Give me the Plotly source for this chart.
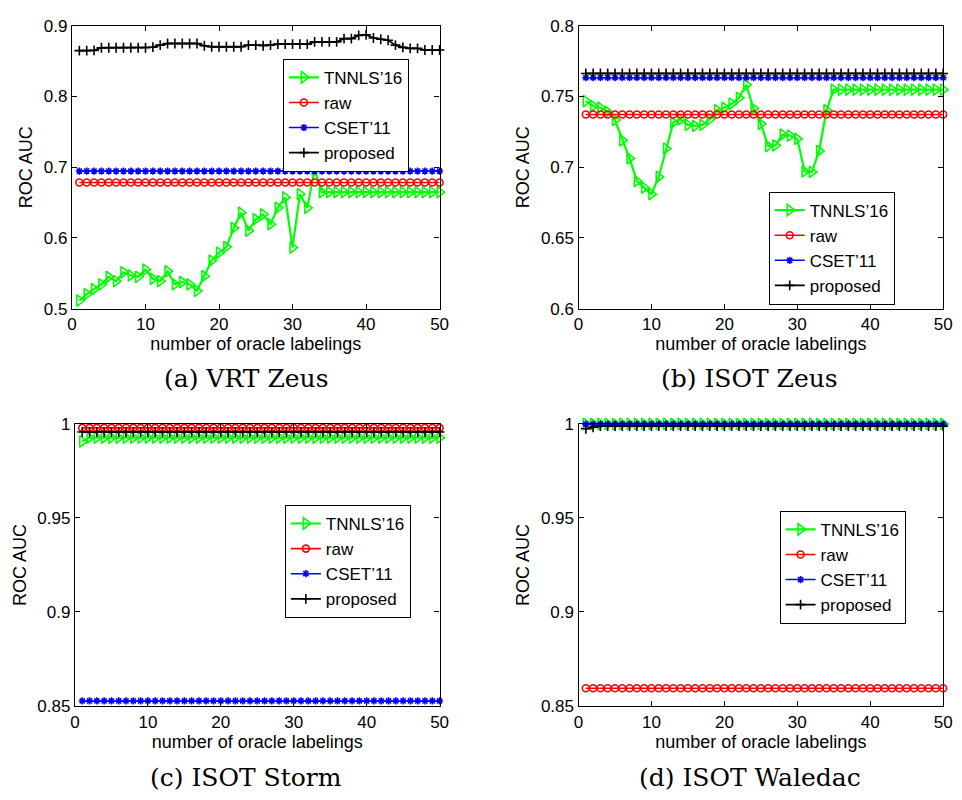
import plotly.graph_objects as go

W, H = 962, 800

x_labels = list(range(1, 51))

# ---------------- (a) VRT Zeus ----------------
a_tnnls = [0.5115, 0.5207, 0.5276, 0.5345, 0.5450, 0.5390, 0.5515, 0.5470, 0.5450, 0.5552,
           0.5423, 0.5390, 0.5529, 0.5345, 0.5377, 0.5345, 0.5253, 0.5460, 0.5680, 0.5791,
           0.5874, 0.6140, 0.6356, 0.6103, 0.6264, 0.6333, 0.6195, 0.6425, 0.6572, 0.5864,
           0.6618, 0.6425, 0.6968, 0.6646, 0.6646, 0.6646, 0.6646, 0.6646, 0.6646, 0.6646,
           0.6646, 0.6646, 0.6646, 0.6646, 0.6646, 0.6646, 0.6646, 0.6646, 0.6646, 0.6646]
a_raw = [0.6784] * 50
a_cset = [0.6945] * 50
a_proposed = [0.8646, 0.8646, 0.8650, 0.8687, 0.8687, 0.8687, 0.8687, 0.8687, 0.8687, 0.8687,
              0.8695, 0.8724, 0.8747, 0.8747, 0.8747, 0.8747, 0.8747, 0.8715, 0.8701, 0.8701,
              0.8701, 0.8701, 0.8701, 0.8724, 0.8724, 0.8715, 0.8724, 0.8738, 0.8738, 0.8738,
              0.8738, 0.8738, 0.8770, 0.8770, 0.8770, 0.8770, 0.8816, 0.8816, 0.8862, 0.8871,
              0.8825, 0.8807, 0.8793, 0.8724, 0.8692, 0.8678, 0.8678, 0.8655, 0.8655, 0.8655]

# ---------------- (b) ISOT Zeus ----------------
b_tnnls = [0.7467, 0.7432, 0.7420, 0.7390, 0.7333, 0.7190, 0.7062, 0.6901, 0.6855, 0.6809,
           0.6931, 0.7131, 0.7315, 0.7338, 0.7299, 0.7292, 0.7299, 0.7338, 0.7402, 0.7420,
           0.7448, 0.7490, 0.7582, 0.7414, 0.7306, 0.7149, 0.7154, 0.7230, 0.7223, 0.7200,
           0.6970, 0.6966, 0.7115, 0.7402, 0.7547, 0.7547, 0.7547, 0.7547, 0.7547, 0.7547,
           0.7547, 0.7547, 0.7547, 0.7547, 0.7547, 0.7547, 0.7547, 0.7547, 0.7547, 0.7547]
b_raw = [0.7372] * 50
b_cset = [0.7632] * 50
b_proposed = [0.7662] * 50

# ---------------- (c) ISOT Storm ----------------
c_tnnls = [0.9907] + [0.9927] * 49
c_raw = [0.9979] * 50
c_cset = [0.8527] * 50
c_proposed = [0.9957] * 50

# ---------------- (d) ISOT Waledac ----------------
d_tnnls = [1.0000] * 50
d_raw = [0.8595] * 50
d_cset = [0.9999] * 50
d_proposed = [0.9974, 0.9982] + [0.9988] * 48

series_names = ["TNNLS\u201916", "raw", "CSET\u201911", "proposed"]
panel_titles = ["(a) VRT Zeus", "(b) ISOT Zeus", "(c) ISOT Storm", "(d) ISOT Waledac"]
y_ranges = [[0.5, 0.9], [0.6, 0.8], [0.85, 1.0], [0.85, 1.0]]
y_dticks = [0.1, 0.05, 0.05, 0.05]

panels = [
    [a_tnnls, a_raw, a_cset, a_proposed],
    [b_tnnls, b_raw, b_cset, b_proposed],
    [c_tnnls, c_raw, c_cset, c_proposed],
    [d_tnnls, d_raw, d_cset, d_proposed],
]

# pixel boxes of each plot area: (left, right, top, bottom)
boxes = [(68, 441, 17, 307), (582, 952, 17, 307), (71, 441, 425, 714), (582, 952, 425, 714)]
legend_pos = [(282, 51), (775, 187), (284, 508), (786, 514)]
caption_pos = [(245, 378), (756, 378), (245, 787), (756, 787)]

styles = [
    dict(color="#00FF00", symbol="triangle-right-open", size=10, width=2.2),
    dict(color="#FF0000", symbol="circle-open", size=7, width=1.6),
    dict(color="#0000FF", symbol="asterisk-open", size=6, width=1.6),
    dict(color="#000000", symbol="cross-thin-open", size=7, width=1.8),
]

SANS = "Liberation Sans, Arial, sans-serif"
fig = go.Figure()

for p, series in enumerate(panels):
    suffix = "" if p == 0 else str(p + 1)
    leg = "legend" if p == 0 else "legend" + str(p + 1)
    for s, vals in enumerate(series):
        st = styles[s]
        fig.add_trace(go.Scatter(
            x=x_labels, y=vals, name=series_names[s], mode="lines+markers",
            xaxis="x" + suffix, yaxis="y" + suffix, legend=leg,
            line=dict(color=st["color"], width=st["width"]),
            marker=dict(symbol=st["symbol"], size=st["size"], color=st["color"],
                        line=dict(color=st["color"], width=1.6)),
            cliponaxis=False,
        ))

layout = dict(
    width=W, height=H, margin=dict(l=0, r=0, t=0, b=0),
    paper_bgcolor="white", plot_bgcolor="white",
    font=dict(family=SANS, size=17, color="black"),
    annotations=[],
)

for p in range(4):
    l, r, t, b = boxes[p]
    suffix = "" if p == 0 else str(p + 1)
    common = dict(showline=True, linecolor="black", linewidth=1.3, mirror="ticks",
                  ticks="inside", ticklen=5, tickwidth=1, tickcolor="black",
                  showgrid=False, zeroline=False,
                  tickfont=dict(family=SANS, size=17, color="black"))
    layout["xaxis" + suffix] = dict(
        domain=[l / W, r / W], range=[0, 50], dtick=10, tick0=0,
        anchor="y" + suffix,
        title=dict(text="number of oracle labelings", standoff=1,
                   font=dict(family=SANS, size=18)),
        **common)
    layout["yaxis" + suffix] = dict(
        domain=[1 - b / H, 1 - t / H], range=y_ranges[p], dtick=y_dticks[p], tick0=0,
        anchor="x" + suffix,
        title=dict(text="ROC AUC", standoff=6, font=dict(family=SANS, size=18)),
        **common)
    lx, ly = legend_pos[p]
    layout["legend" if p == 0 else "legend" + str(p + 1)] = dict(
        x=lx / W, y=1 - ly / H, xanchor="left", yanchor="top",
        xref="paper", yref="paper",
        bgcolor="white", bordercolor="black", borderwidth=1,
        font=dict(family=SANS, size=17, color="black"),
        itemwidth=30, tracegroupgap=0,
    )
    cx, cy = caption_pos[p]
    layout["annotations"].append(dict(
        text=panel_titles[p], x=cx / W, y=1 - cy / H, xref="paper", yref="paper",
        xanchor="center", yanchor="middle", showarrow=False,
        font=dict(family="DejaVu Serif, Liberation Serif, serif", size=25, color="black"),
    ))

fig.update_layout(**layout)
fig.write_html("out.html")
